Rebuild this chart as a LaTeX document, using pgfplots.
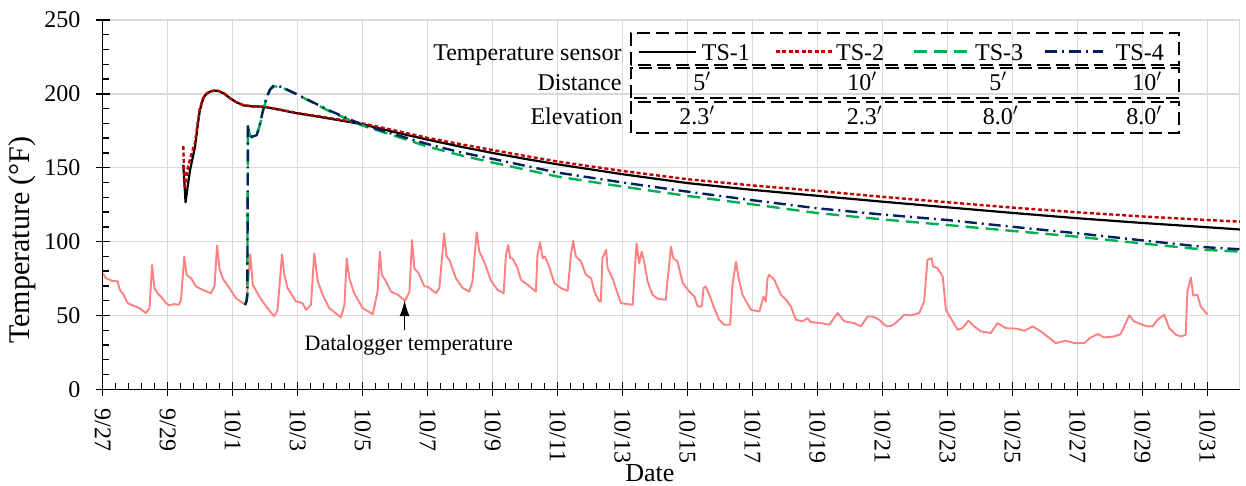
\documentclass[border=0pt]{standalone}
\usepackage{fontspec}
\setmainfont{Liberation Serif}
\usepackage{pgfplots}
\pgfplotsset{compat=1.18}
\usepackage{pgfplotstable}
\usetikzlibrary{arrows.meta}
\definecolor{tsred}{RGB}{192,0,0}
\definecolor{tsgreen}{RGB}{0,176,80}
\definecolor{tsnavy}{RGB}{0,32,96}
\definecolor{dlog}{RGB}{255,128,128}
\definecolor{gridc}{RGB}{217,217,217}

\pgfplotstableread{
d T
2.48 152
2.55 126.6
2.62 138
2.69 148.6
2.84 164
2.92 178
2.99 189
3.08 196
3.15 199
3.3 201.5
3.45 202.2
3.56 202
3.75 200
3.92 197
4.1 194.5
4.33 192.2
4.6 191.5
4.94 191.3
5.5 189
6 186.8
7 183.2
8 179.4
9 174
10 169
11 164.3
12 160
13 156
14 152.3
16 145.6
18 139.6
20 135
22 131
24 127
26 123.2
28 119.4
30 115.8
32 112.6
34 109.7
35 108.2
}\tsone

\pgfplotstableread{
d T
2.48 164.7
2.5 150
2.53 137
2.6 148
2.7 157
2.84 167
2.92 180
2.99 190
3.08 196.5
3.15 199.5
3.3 201.8
3.45 202.3
3.56 202
3.75 200
3.92 197
4.1 194.5
4.33 192.4
4.6 191.6
4.94 191.4
5.5 189.2
6 187
7 183.6
8 180
9 175.2
10 170.2
11 166
12 162
13 158
14 154.2
16 147.8
18 142.2
20 138
22 134.3
24 130.3
26 126.6
28 123
30 119.8
32 117
34 114.6
35 113.5
}\tstwo

\pgfplotstableread{
d T
4.38 57
4.43 60
4.45 64
4.46 120
4.47 178
4.5 174
4.58 170.5
4.74 171.5
4.85 180
4.94 189
5.05 197.5
5.15 202.6
5.25 205
5.4 205
5.5 204.5
6 199.3
7 188
8 178.5
9 171.5
10 164.3
11 158.5
12 153.5
14 144
16 137.2
18 130.9
20 125.2
22 119.3
24 115
26 111.2
28 107.2
30 103.3
32 98.7
34 94.3
35 93.2
}\tsthree

\pgfplotstableread{
d T
4.38 57
4.43 60
4.45 64
4.46 120
4.47 179
4.5 174.5
4.58 171
4.74 172
4.85 180.5
4.94 189.5
5.05 198
5.15 203
5.25 205.3
5.4 205.2
5.5 204.7
6 199.5
7 188.5
8 179
9 172.5
10 166
11 160.5
12 156
14 146.7
16 140
18 133.8
20 128
22 122.5
24 118.3
26 114.6
28 110
30 105.6
32 100.8
34 96.1
35 94.8
}\tsfour

\pgfplotstableread{
d T
0 78.6
0.1 75.2
0.3 73.4
0.46 73
0.51 68.5
0.56 66.2
0.62 65
0.77 58.3
0.92 56.8
1.13 55
1.33 51.6
1.44 55
1.52 84.2
1.59 68.5
1.69 65
1.79 62.8
1.95 58.3
2.05 56.8
2.2 57.7
2.34 57.2
2.41 60.6
2.51 89.9
2.58 77.5
2.72 75.2
2.87 69.6
3.08 67.3
3.33 65
3.44 69.6
3.52 97.3
3.59 82
3.69 75.2
3.9 68.5
4.1 61.7
4.36 57.7
4.43 59.5
4.54 91.4
4.62 70.7
4.82 62.8
5.03 56.1
5.28 49.3
5.38 53.8
5.52 91.4
5.59 77.5
5.69 68.5
5.95 59.5
6.15 58.3
6.26 53.8
6.41 57.2
6.51 92.1
6.62 73
6.77 64
6.97 55
7.33 48.7
7.44 57.2
7.51 88.7
7.59 75.2
7.74 65
8 55
8.31 50.9
8.46 66.2
8.53 93.2
8.59 77.5
8.72 73
8.87 66.2
9.08 64
9.31 60
9.44 66.2
9.52 101.1
9.59 82
9.72 78.6
9.9 69.6
10 69.6
10.26 65
10.36 68.5
10.51 105.6
10.58 89.9
10.67 87.6
10.87 75.2
11.08 68.5
11.28 66.2
11.38 73
11.51 106.3
11.59 93.2
11.74 86.5
11.95 73.5
12.15 67.3
12.34 65
12.41 91
12.48 97.7
12.54 88.7
12.61 88.7
12.77 82
12.87 74.1
13.08 70.7
13.33 66.2
13.38 91
13.46 99.5
13.54 88.7
13.61 89.9
13.74 83.1
13.9 71.9
14.1 68.5
14.31 66.7
14.41 91
14.48 100.5
14.56 89.9
14.72 86.5
14.87 77.5
15.03 75.2
15.13 66.2
15.28 59.5
15.33 59.5
15.38 88.7
15.49 94.4
15.54 82
15.69 75.2
15.79 68.5
15.95 58.3
16.15 57.7
16.31 57.2
16.38 82
16.43 98.9
16.51 85.4
16.59 93.2
16.67 85.4
16.77 73
16.92 64
17.08 61.3
17.33 60.6
17.38 73
17.49 96.6
17.56 88.7
17.69 86.5
17.85 71.9
18.05 66.2
18.21 62.8
18.31 56.1
18.44 56.1
18.49 68.5
18.56 69.6
18.67 64
18.82 55
18.97 47.1
19.13 43.7
19.31 43.7
19.38 70.7
19.49 86.5
19.56 76.4
19.69 64
19.95 53.8
20.21 52.7
20.34 62.8
20.41 59.5
20.46 75.2
20.51 77.5
20.67 74.1
20.87 64
21.03 60.6
21.18 56.1
21.33 47.1
21.54 46
21.69 48.2
21.79 45.5
22.1 44.8
22.36 43.7
22.62 51.6
22.82 46
23.13 44.8
23.33 42.6
23.54 49.3
23.69 49.3
23.9 47.1
24.05 43.7
24.15 42.6
24.3 43.2
24.46 46
24.67 50.5
24.87 50
25.13 51.6
25.28 59.5
25.38 87.6
25.51 88.7
25.56 83.1
25.69 82
25.85 76.4
25.95 53.8
26.1 48.2
26.31 40.3
26.46 41.4
26.64 46.4
26.82 42.6
27.03 39.2
27.33 38.1
27.54 44.8
27.79 41.4
28.15 41
28.36 39.6
28.62 42.6
28.87 39.2
29.33 31.3
29.64 32.9
29.9 31.3
30.21 31.3
30.38 34.7
30.62 37.4
30.82 35.1
31.13 35.8
31.33 37.4
31.44 42.6
31.59 50
31.74 46
31.95 44.1
32.15 42.6
32.31 42.6
32.46 47.1
32.67 50.5
32.82 41.4
33.03 36.9
33.18 35.8
33.33 36.9
33.38 66.2
33.49 75.7
33.56 63.5
33.69 64
33.79 56.1
34 50.5
}\dlogger

\tikzset{
  lg/.style={font=\fontsize{24}{28}\selectfont, inner sep=0pt},
  dbox/.style={black, line width=2.2pt, dash pattern=on 13pt off 6pt},
  s1/.style={black, line width=2.2pt},
  s2/.style={tsred, line width=2.4pt, dash pattern=on 4pt off 2.5pt},
  s3/.style={tsgreen, line width=2.4pt, dash pattern=on 13pt off 7pt},
  s4/.style={tsnavy, line width=2.4pt, dash pattern=on 12pt off 5pt on 2pt off 5pt},
}

\begin{document}
\begin{tikzpicture}
\useasboundingbox (-102.7pt,-95.7pt) rectangle (1143.3pt,389.3pt);
\begin{axis}[
  at={(0pt,0pt)}, anchor=south west,
  scale only axis, width=1137.3pt, height=369.3pt,
  xmin=0, xmax=35, ymin=0, ymax=250,
  axis x line*=bottom, axis y line*=left,
  axis line style={-, line width=1.6pt, black},
  xtick={0,2,...,34},
  xticklabels={9/27,9/29,10/1,10/3,10/5,10/7,10/9,10/11,10/13,10/15,10/17,10/19,10/21,10/23,10/25,10/27,10/29,10/31},
  ytick={0,50,...,250},
  minor x tick num=4, minor y tick num=4,
  tick align=inside,
  major tick length=7pt, minor tick length=6pt,
  tick style={black, line width=1.4pt},
  extra x ticks={0,2,...,34}, extra x tick labels={},
  extra x tick style={tick align=outside, grid=none, major tick length=7pt},
  extra y ticks={0,50,...,250}, extra y tick labels={},
  extra y tick style={tick align=outside, grid=none, major tick length=7pt},
  grid=major, major grid style={gridc, line width=1.3pt},
  tick label style={font=\fontsize{24}{28}\selectfont},
  /pgf/number format/assume math mode=true,
  xticklabel style={rotate=-90, anchor=west, inner sep=0pt},
  xticklabel shift=19pt,
  yticklabel style={anchor=east, inner sep=0pt},
  yticklabel shift=22pt,
  xlabel={Date}, ylabel={Temperature (\textdegree F)},
  xlabel style={at={(axis description cs:0.4812,-0.249)}, anchor=base, font=\fontsize{26}{30}\selectfont, inner sep=0pt},
  ylabel style={at={(axis description cs:-0.0707,0.404)}, anchor=center, font=\fontsize{30}{34}\selectfont, inner sep=0pt},
]
\draw[gridc, line width=1.3pt] (rel axis cs:1,0) -- (rel axis cs:1,1);
\addplot[dlog, line width=1.9pt, line join=round] table[x=d,y=T] {\dlogger};
\addplot[s1, line join=round] table[x=d,y=T] {\tsone};
\addplot[s2, line join=round] table[x=d,y=T] {\tstwo};
\addplot[s3, line join=round] table[x=d,y=T] {\tsthree};
\addplot[s4, line join=round] table[x=d,y=T] {\tsfour};
\draw[-{Latex[length=16pt,width=10pt]}, line width=1.3pt] (axis cs:9.29,40.2) -- (axis cs:9.29,60.3);
\node[font=\fontsize{22}{26}\selectfont, anchor=base, inner sep=0pt] at (axis cs:9.42,26.2) {Datalogger temperature};
\end{axis}
% legend table
\draw[dbox] (528.3pt,324.3pt) rectangle (1076.3pt,356.3pt);
\draw[dbox] (528.3pt,291.3pt) rectangle (1076.3pt,321.3pt);
\draw[dbox] (528.3pt,256.3pt) rectangle (1076.3pt,287.3pt);
\node[lg, anchor=base east] at (519pt,328.6pt) {Temperature sensor};
\node[lg, anchor=base east] at (519pt,298.3pt) {Distance};
\node[lg, anchor=base east] at (520pt,264.3pt) {Elevation};
\draw[s1] (535.9pt,337.6pt) -- (593.3pt,337.6pt);
\node[lg, anchor=base west] at (599pt,328.6pt) {TS-1};
\draw[s2] (672.9pt,337.6pt) -- (730.3pt,337.6pt);
\node[lg, anchor=base west] at (733.3pt,328.6pt) {TS-2};
\draw[s3] (811.3pt,337.6pt) -- (869.3pt,337.6pt);
\node[lg, anchor=base west] at (872.3pt,328.6pt) {TS-3};
\draw[s4] (942.3pt,337.6pt) -- (999.8pt,337.6pt);
\node[lg, anchor=base west] at (1012.9pt,328.6pt) {TS-4};
\node[lg, anchor=base] at (599.3pt,298.3pt) {5$'$};
\node[lg, anchor=base] at (759.3pt,298.3pt) {10$'$};
\node[lg, anchor=base] at (895.3pt,298.3pt) {5$'$};
\node[lg, anchor=base] at (1044.3pt,298.3pt) {10$'$};
\node[lg, anchor=base] at (594.3pt,264.3pt) {2.3$'$};
\node[lg, anchor=base] at (761.9pt,264.3pt) {2.3$'$};
\node[lg, anchor=base] at (897.8pt,264.3pt) {8.0$'$};
\node[lg, anchor=base] at (1041.3pt,264.3pt) {8.0$'$};
\end{tikzpicture}
\end{document}
